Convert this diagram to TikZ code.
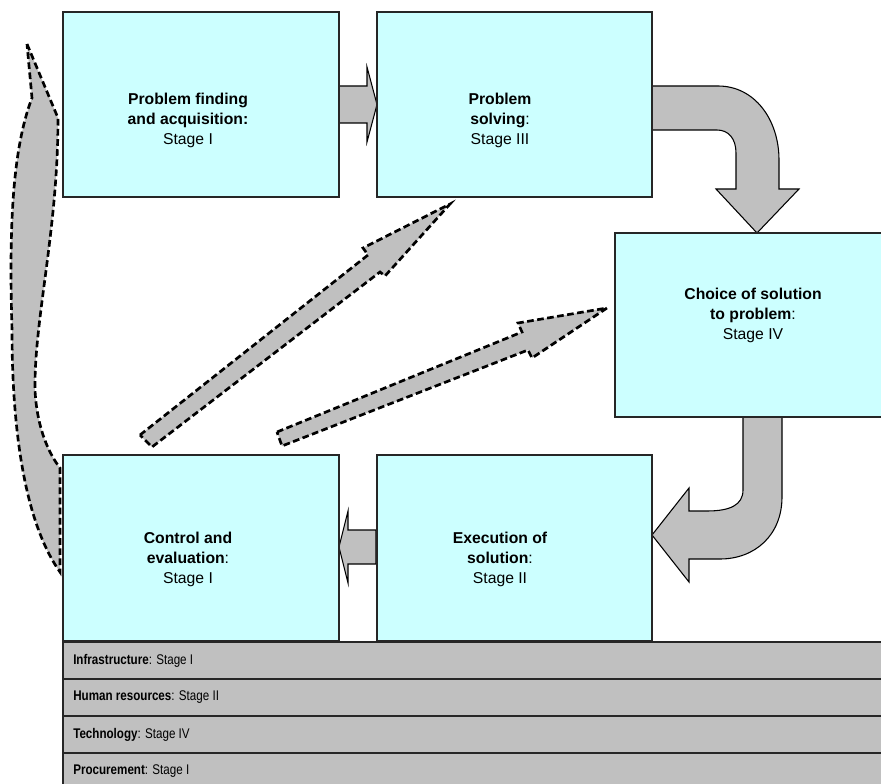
\documentclass[tikz,border=0pt]{standalone}
\usepackage{fontspec}
\setmainfont{Liberation Sans}
\definecolor{boxcyan}{HTML}{CCFFFF}
\definecolor{arrowgray}{HTML}{C0C0C0}
\newcommand{\barfont}[1]{\scalebox{0.83}[1]{#1}}
\begin{document}
\begin{tikzpicture}[x=0.75pt,y=-0.75pt,
  box/.style={draw=black!85,line width=1.2pt,fill=boxcyan,inner sep=0pt,outer sep=0pt},
  lbl/.style={align=center,font=\fontsize{11.8}{15}\selectfont,inner sep=0pt},
  solidarrow/.style={draw=black,line width=0.8pt,fill=arrowgray,line join=miter},
  dasharrow/.style={draw=black,line width=2pt,fill=arrowgray,dash pattern=on 5pt off 2.6pt},
  bar/.style={draw=black!85,line width=1.2pt,fill=arrowgray,inner sep=0pt,outer sep=0pt,
    minimum width=616.5pt,minimum height=27.75pt,anchor=north west},
  barlbl/.style={anchor=west,font=\fontsize{10.5}{12}\selectfont,inner sep=0pt}]
\useasboundingbox (0,0) rectangle (881,784);
\clip (0,0) rectangle (881,784);

% block arrows between the stages
\draw[solidarrow] (339,86) -- (367,86) -- (367,67) -- (377,104.5) -- (367,142)
  -- (367,123) -- (339,123) -- cycle;
\draw[solidarrow] (652,86) -- (718,86) .. controls (755,86) and (779,120) .. (779,160)
  -- (779,189) -- (799,189) -- (757,233) -- (716,189) -- (736,189) -- (736,153)
  .. controls (736,138) and (728,130) .. (717,130) -- (652,130) -- cycle;
\draw[solidarrow] (743,417) -- (782,417) -- (782,497) .. controls (782,535) and (755,559) .. (720,559)
  -- (689,559) -- (689,582) -- (652,535) -- (689,488) -- (689,511) -- (707,511)
  .. controls (730,511) and (743,505) .. (743,490) -- cycle;
\draw[solidarrow] (376,530) -- (348,530) -- (348,511) -- (339,547) -- (348,583)
  -- (348,564) -- (376,564) -- cycle;

% feedback arrows from control and evaluation
\draw[dasharrow] (140,435) -- (368,255) -- (363,248) -- (450,204) -- (385,276)
  -- (380,272) -- (152,447) -- cycle;
\draw[dasharrow] (277,432) -- (522,332) -- (518,323) -- (607,308) -- (532,358)
  -- (528,350) -- (282,446) -- cycle;
\draw[dasharrow] (27,44) -- (58,118) .. controls (58,230) and (34,320) .. (35,390)
  .. controls (37,430) and (50,455) .. (60,468) -- (60,572)
  .. controls (30,530) and (12,450) .. (12,330)
  .. controls (9,230) and (12,150) .. (32,98) -- cycle;

% stage boxes
\node[box,minimum width=207pt,minimum height=138.75pt] (b1) at (201,104.5) {};
\node[box,minimum width=206.25pt,minimum height=138.75pt] (b2) at (514.5,104.5) {};
\node[box,minimum width=202.5pt,minimum height=138pt] (b3) at (750,325) {};
\node[box,minimum width=207pt,minimum height=139.5pt] (b4) at (201,548) {};
\node[box,minimum width=206.25pt,minimum height=139.5pt] (b5) at (514.5,548) {};

\node[lbl] (t1) at (188,120) {\textbf{Problem finding}\\\textbf{and acquisition:}\\Stage I};
\node[lbl] (t2) at (500,120) {\textbf{Problem}\\\textbf{solving}:\\Stage III};
\node[lbl] (t3) at (753,315) {\textbf{Choice of solution}\\\textbf{to problem}:\\Stage IV};
\node[lbl] (t4) at (188,559) {\textbf{Control and}\\\textbf{evaluation}:\\Stage I};
\node[lbl] (t5) at (500,559) {\textbf{Execution of}\\\textbf{solution}:\\Stage II};

% support activities
\node[bar] (r1) at (63,642) {};
\node[bar] (r2) at (63,679) {};
\node[bar] (r3) at (63,716) {};
\node[bar] (r4) at (63,753) {};
\node[barlbl] (l1) at (73,660.5) {\barfont{\textbf{Infrastructure}: Stage I}};
\node[barlbl] (l2) at (73,697.5) {\barfont{\textbf{Human resources}: Stage II}};
\node[barlbl] (l3) at (73,734.5) {\barfont{\textbf{Technology}: Stage IV}};
\node[barlbl] (l4) at (73,771.5) {\barfont{\textbf{Procurement}: Stage I}};
\end{tikzpicture}
\end{document}
